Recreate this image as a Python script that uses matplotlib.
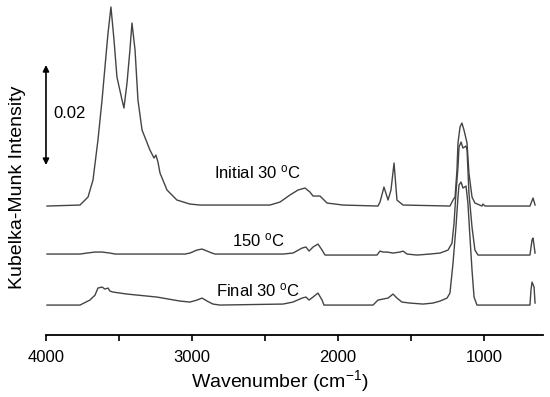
import numpy as np
import matplotlib
matplotlib.use('Agg')
import matplotlib.pyplot as plt

plt.rcParams['font.family'] = ['Liberation Sans', 'DejaVu Sans']
plt.rcParams['mathtext.default'] = 'regular'
plt.rcParams['font.size'] = 11

# Kubelka-Munk spectra (intensity above each trace's own baseline)
wn_init = [3993, 3767, 3712, 3678, 3644, 3616, 3596, 3575, 3555, 3534, 3514, 3479, 3466,
           3445, 3425, 3411, 3390, 3370, 3342, 3288, 3260, 3247, 3233, 3219, 3171, 3103,
           3014, 2945, 2829, 2466, 2397, 2329, 2274, 2226, 2192, 2171, 2123, 2075, 1966,
           1726, 1712, 1685, 1657, 1637, 1616, 1596, 1555, 1233, 1212, 1198, 1185, 1178,
           1164, 1151, 1137, 1116, 1103, 1082, 1062, 1014, 1007, 993, 685, 664, 650]
km_init = [0.0, 0.2, 1.8, 5.2, 13.2, 21.2, 27.8, 34.6, 39.8, 33.2, 25.8, 21.2, 19.6,
           24.6, 31.2, 36.6, 31.2, 21.2, 15.2, 11.2, 9.6, 10.2, 8.8, 6.6, 3.2, 1.2,
           0.4, 0.2, 0.2, 0.2, 0.8, 2.2, 3.2, 3.6, 2.8, 2.0, 2.0, 0.6, 0.2,
           0.0, 0.8, 3.8, 1.2, 3.2, 8.6, 1.2, 0.2, 0.0, 1.2, 1.8, 7.2, 12.6,
           15.8, 16.6, 15.2, 12.6, 6.6, 1.8, 0.6, 0.0, 0.4, 0.0, 0.0, 1.6, 0.2]

wn_150 = [3993, 3767, 3719, 3664, 3616, 3562, 3527, 3288, 3048, 3014, 2966, 2931, 2897,
          2863, 2842, 2377, 2308, 2246, 2219, 2198, 2171, 2137, 2109, 2089, 1733, 1712,
          1692, 1664, 1623, 1575, 1555, 1527, 1459, 1370, 1301, 1246, 1219, 1205, 1192,
          1178, 1171, 1157, 1144, 1123, 1116, 1103, 1082, 1062, 1041, 685, 671, 664, 650]
km_150 = [0.2, 0.2, 0.4, 0.6, 0.6, 0.4, 0.2, 0.2, 0.2, 0.4, 1.0, 1.2, 0.8,
          0.4, 0.2, 0.2, 0.4, 1.4, 1.6, 0.8, 1.6, 2.2, 1.0, 0.0, 0.0, 0.8,
          0.6, 0.6, 0.4, 0.6, 0.8, 0.2, 0.0, 0.2, 0.4, 1.0, 2.4, 6.4, 12.4,
          17.6, 21.6, 22.6, 21.4, 21.8, 21.0, 12.4, 5.6, 1.0, 0.0, 0.0, 3.0, 3.4, 0.4]

wn_final = [3993, 3767, 3699, 3664, 3644, 3616, 3596, 3575, 3562, 3541, 3445, 3240, 3082,
            3014, 2966, 2931, 2897, 2856, 2808, 2377, 2308, 2246, 2219, 2198, 2171, 2137,
            2109, 2096, 1760, 1726, 1692, 1657, 1623, 1596, 1562, 1507, 1418, 1349, 1301,
            1253, 1233, 1212, 1192, 1178, 1171, 1157, 1144, 1123, 1110, 1096, 1082, 1068,
            1048, 685, 678, 671, 657, 650]
km_final = [0.0, 0.0, 1.0, 2.0, 3.4, 3.6, 3.2, 3.4, 2.8, 2.6, 2.2, 1.6, 0.8,
            0.6, 1.0, 1.4, 0.8, 0.2, 0.0, 0.2, 0.6, 1.4, 1.6, 1.0, 1.6, 2.4,
            1.0, 0.0, 0.0, 1.0, 1.2, 1.4, 2.2, 1.4, 0.6, 0.4, 0.2, 0.4, 0.8,
            1.4, 2.4, 8.4, 15.6, 21.6, 24.0, 24.6, 23.4, 23.8, 20.4, 13.6, 7.0, 1.6,
            0.0, 0.0, 3.0, 4.6, 3.6, 0.4]

# vertical offsets of the stacked traces
offsets = [0.0258, 0.0160, 0.0060]
labels = [r'Initial 30 $^{o}$C', r'150 $^{o}$C', r'Final 30 $^{o}$C']
label_y = [0.0326, 0.0190, 0.0090]

fig = plt.figure(figsize=(5.5, 3.97), dpi=100)
ax = fig.add_axes([0.0836, 0.156, 0.9036, 0.844])

spectra = [(wn_init, km_init), (wn_150, km_150), (wn_final, km_final)]
for (wn, km), off in zip(spectra, offsets):
    ax.plot(wn, np.array(km) * 1e-3 + off, '-', color='#444444', lw=1.0)

for lab, ly in zip(labels, label_y):
    ax.text(2548, ly, lab, ha='center', va='center', fontsize=12)

# 0.02 scale bar
ax.annotate('', xy=(4000, 0.0540), xytext=(4000, 0.0340),
            arrowprops=dict(arrowstyle='<|-|>', color='black', lw=1.2,
                            mutation_scale=9, shrinkA=0, shrinkB=0),
            annotation_clip=False)
ax.text(3952, 0.0444, '0.02', ha='left', va='center', fontsize=12)

ax.set_xlim(4000, 596)
ax.set_ylim(0, 0.067)
for s in ['top', 'left', 'right']:
    ax.spines[s].set_visible(False)
ax.spines['bottom'].set_linewidth(1.3)
ax.set_yticks([])
ax.set_xticks([4000, 3000, 2000, 1000])
ax.set_xticks([3500, 2500, 1500], minor=True)
ax.tick_params(axis='x', which='both', direction='out', length=4, width=1.2, labelsize=12, pad=7)

fig.text(280 / 550, 1 - 381 / 397, r'Wavenumber (cm$^{-1}$)', ha='center', va='center', fontsize=14)
fig.text(18 / 550, 1 - 187 / 397, 'Kubelka-Munk Intensity', ha='center', va='center',
         rotation=90, fontsize=14)

fig.savefig('out.png', dpi=100)
